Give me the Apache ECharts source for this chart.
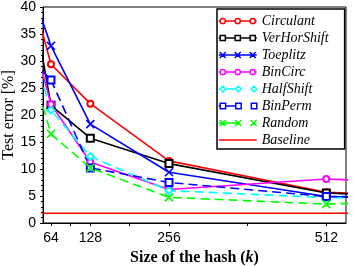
<!DOCTYPE html>
<html><head><meta charset="utf-8">
<script src="https://cdn.jsdelivr.net/npm/echarts@6/dist/echarts.min.js"></script>
<style>html,body{margin:0;padding:0;background:#fff}#c{width:353px;height:266px}</style>
</head><body><div id="c"></div>
<script>
var hashSizes = [32, 64, 128, 256, 512, 1024];
var circulant   = [42.9, 29.4, 22.1, 11.5, 5.7, 3.5];
var verHorShift = [42.5, 21.8, 15.7, 11.0, 5.55, 3.2];
var toeplitz    = [43.4, 32.8, 18.3, 9.4, 4.9, 4.0];
var binCirc     = [35.5, 22.0, 11.3, 6.2, 8.15, 5.8];
var halfShift   = [32.5, 20.9, 12.3, 6.0, 4.7, 4.0];
var binPerm     = [30.2, 26.5, 10.2, 7.5, 4.9, 4.5];
var random      = [29.0, 16.5, 10.2, 4.75, 3.5, 5.5];
var baselineX   = [32, 1024];
var baseline    = [1.8, 1.8];
var xTickLabels = [64, 128, 256, 512];
var xTicks      = [64, 96, 128, 192, 256, 384, 512];

var X = 'path://M0,0L10,10M10,0L0,10';

// legend icon builder (stroke-only paths, 38 wide)
function iconPath(kind, dashed){
  var cy = 4, xs = [4, 19, 34], r = kind === 'x' ? 0 : 2.6, p = '';
  function seg(a, b){ p += 'M' + a + ',' + cy + 'L' + b + ',' + cy; }
  seg(0, xs[0] - r); seg(xs[0] + r, xs[1] - r);
  if (!dashed) { seg(xs[1] + r, xs[2] - r); seg(xs[2] + r, 38); }
  xs.forEach(function(x){
    if (kind === 'c') p += 'M' + (x + 2.6) + ',' + cy + 'A2.6,2.6 0 1,1 ' + (x - 2.6) + ',' + cy + 'A2.6,2.6 0 1,1 ' + (x + 2.6) + ',' + cy + 'Z';
    else if (kind === 's') p += 'M' + (x - 2.6) + ',' + (cy - 2.6) + 'L' + (x + 2.6) + ',' + (cy - 2.6) + 'L' + (x + 2.6) + ',' + (cy + 2.6) + 'L' + (x - 2.6) + ',' + (cy + 2.6) + 'Z';
    else if (kind === 'd') p += 'M' + x + ',' + (cy - 2.8) + 'L' + (x + 2.6) + ',' + cy + 'L' + x + ',' + (cy + 2.8) + 'L' + (x - 2.6) + ',' + cy + 'Z';
    else p += 'M' + (x - 3) + ',' + (cy - 3) + 'L' + (x + 3) + ',' + (cy + 3) + 'M' + (x + 3) + ',' + (cy - 3) + 'L' + (x - 3) + ',' + (cy + 3);
  });
  return 'path://' + p;
}

function pts(v){ return hashSizes.map(function(x,i){return [x, v[i]];}); }
function mk(name, data, color, symbol, size, dashed){
  return {
    name: name, type: 'line', data: pts(data), clip: true,
    symbol: symbol, symbolSize: size, showSymbol: true,
    lineStyle: {color: color, width: 1.6, type: dashed ? [9,5] : 'solid'},
    itemStyle: {color: color, borderColor: color, borderWidth: 1.6},
    animation: false, z: 3
  };
}
var series = [
  mk('Circulant', circulant, '#ff0000', 'emptyCircle', 6, false),
  mk('VerHorShift', verHorShift, '#000000', 'emptyRect', 7, false),
  mk('Toeplitz', toeplitz, '#0000ff', X, 8, false),
  mk('BinCirc', binCirc, '#ff00ff', 'emptyCircle', 6, false),
  mk('HalfShift', halfShift, '#00ffff', 'emptyDiamond', 7, true),
  mk('BinPerm', binPerm, '#0000ff', 'emptyRect', 7, true),
  mk('Random', random, '#00ff00', X, 8, true),
  {name: 'Baseline', type: 'line', data: baselineX.map(function(x,i){return [x, baseline[i]];}),
   symbol: 'none', clip: true,
   lineStyle: {color: '#ff0000', width: 1.6}, itemStyle:{color:'#ff0000'}, animation: false}
];
function li(name, color, kind, dashed){
  return {name: name, icon: iconPath(kind, dashed), itemStyle: {color: '#fff', borderColor: color, borderWidth: 1.5}};
}
var chart = echarts.init(document.getElementById('c'));
chart.setOption({
  animation: false,
  grid: {left: 43, right: 7, top: 7, bottom: 43, outerBoundsMode: 'none', containLabel: false,
         show: true, borderColor: '#000', borderWidth: 1},
  xAxis: {
    type: 'value', min: 51, max: 544,
    name: '{b|Size of the hash (}{i|k}{b|)}', nameLocation: 'middle', nameGap: 27,
    nameTextStyle: {rich: {
      b: {fontFamily: 'Liberation Serif', fontWeight: 'bold', fontSize: 16, color: '#000'},
      i: {fontFamily: 'Liberation Serif', fontWeight: 'bold', fontStyle: 'italic', fontSize: 16, color: '#000'}}},
    splitLine: {show: false},
    axisLine: {show: true, onZero: false, lineStyle: {color: '#000', width: 1}},
    axisTick: {show: true, customValues: xTicks, length: 3, lineStyle: {color: '#000'}},
    axisLabel: {customValues: xTickLabels, color: '#000', fontFamily: 'Liberation Sans', fontSize: 14, margin: 8}
  },
  yAxis: {
    type: 'value', min: 0, max: 40, interval: 5,
    name: 'Test error [%]', nameLocation: 'middle', nameGap: 26, nameMoveOverlap: false,
    nameTextStyle: {fontFamily: 'Liberation Serif', fontSize: 16, color: '#000'},
    splitLine: {show: false},
    axisLine: {show: true, lineStyle: {color: '#000', width: 1}},
    axisTick: {show: true, length: 3, lineStyle: {color: '#000'}},
    minorTick: {show: true, splitNumber: 5, length: 2, lineStyle: {color: '#000'}},
    axisLabel: {color: '#000', fontFamily: 'Liberation Sans', fontSize: 14, margin: 7}
  },
  legend: {
    orient: 'vertical', left: 217, top: 9,
    padding: [5, 16, 2, 1], itemGap: 3, itemWidth: 38, itemHeight: 13,
    borderColor: '#000', borderWidth: 1.5, backgroundColor: '#fff',
    textStyle: {fontFamily: 'Liberation Serif', fontStyle: 'italic', fontSize: 14, color: '#000'},
    data: [
      li('Circulant', '#ff0000', 'c', false),
      li('VerHorShift', '#000000', 's', false),
      li('Toeplitz', '#0000ff', 'x', false),
      li('BinCirc', '#ff00ff', 'c', false),
      li('HalfShift', '#00ffff', 'd', true),
      li('BinPerm', '#0000ff', 's', true),
      li('Random', '#00ff00', 'x', true),
      {name: 'Baseline', icon: 'path://M0,0L38,0L38,1.6L0,1.6Z', itemStyle: {color: '#ff0000', borderWidth: 0}}
    ]
  },
  series: series
});
</script></body></html>
